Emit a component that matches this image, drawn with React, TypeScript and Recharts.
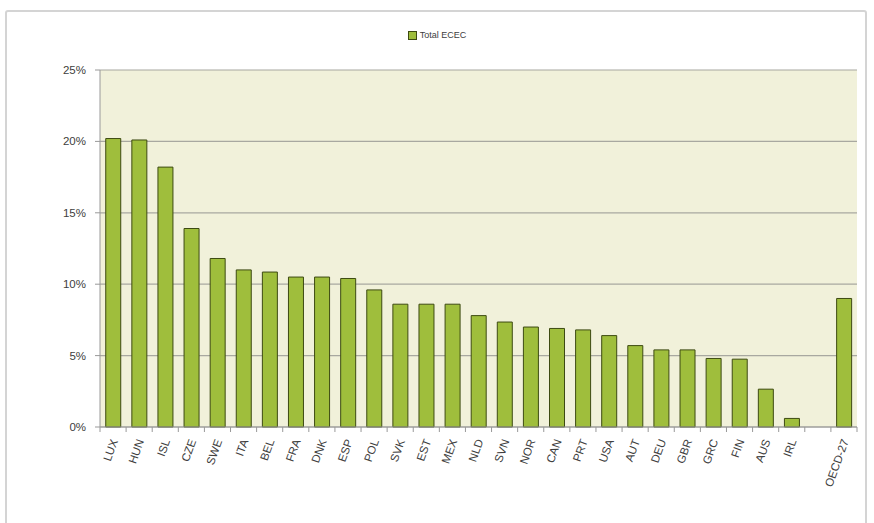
import { BarChart, Bar, XAxis, YAxis, CartesianGrid, Legend } from "recharts";

const countries = [
  "LUX", "HUN", "ISL", "CZE", "SWE", "ITA", "BEL", "FRA", "DNK", "ESP",
  "POL", "SVK", "EST", "MEX", "NLD", "SVN", "NOR", "CAN", "PRT", "USA",
  "AUT", "DEU", "GBR", "GRC", "FIN", "AUS", "IRL", "", "OECD-27",
];

const totalEcec: (number | null)[] = [
  20.2, 20.1, 18.2, 13.9, 11.8, 11.0, 10.85, 10.5, 10.5, 10.4,
  9.6, 8.6, 8.6, 8.6, 7.8, 7.35, 7.0, 6.9, 6.8, 6.4,
  5.7, 5.4, 5.4, 4.8, 4.75, 2.65, 0.6, null, 9.0,
];

const yTicks = [0, 5, 10, 15, 20, 25];

const data = countries.map((c, i) => ({ country: c, ecec: totalEcec[i] }));

const W = 874;
const H = 523;
const PLOT_LEFT = 100;
const PLOT_RIGHT = 857;
const STEP = (PLOT_RIGHT - PLOT_LEFT) / countries.length;
const FONT = "Liberation Sans, Arial, sans-serif";

function XTick(props: any) {
  const { x, y, payload, index } = props;
  const left = x - STEP / 2;
  return (
    <g>
      <line x1={left} y1={y - 8} x2={left} y2={y - 3} stroke="#999" />
      {index === countries.length - 1 && (
        <line x1={x + STEP / 2} y1={y - 8} x2={x + STEP / 2} y2={y - 3} stroke="#999" />
      )}
      <text
        x={x + 5}
        y={y + 6}
        transform={`rotate(-70 ${x + 5} ${y + 6})`}
        textAnchor="end"
        fontSize={11.5}
        fill="#404040"
        fontFamily={FONT}
      >
        {payload.value}
      </text>
    </g>
  );
}

function LegendBox() {
  return (
    <div
      style={{
        display: "flex",
        alignItems: "center",
        justifyContent: "center",
        fontSize: 9,
        color: "#404040",
        fontFamily: FONT,
      }}
    >
      <span
        style={{
          display: "inline-block",
          width: 7,
          height: 7,
          background: "#9fbe3c",
          border: "1px solid #3d4a12",
          marginRight: 3,
        }}
      />
      Total ECEC
    </div>
  );
}

export default function App() {
  return (
    <div style={{ position: "absolute", left: 0, top: 0, width: W, height: H, background: "#fff" }}>
      <div
        style={{
          position: "absolute",
          left: 5,
          top: 10,
          width: 862,
          height: 520,
          border: "2px solid #d4d4d4",
          borderRadius: 3,
          boxSizing: "border-box",
        }}
      />
      <BarChart
        width={W}
        height={H}
        data={data}
        margin={{ top: 60, right: W - PLOT_RIGHT, bottom: 0, left: 0 }}
        barCategoryGap="22%"
        style={{ position: "absolute", left: 0, top: 0 }}
      >
        <CartesianGrid
          vertical={false}
          fill="#f1f1da"
          stroke="#a8a8a0"
          strokeWidth={1.2}
        />
        <Legend
          verticalAlign="top"
          content={<LegendBox />}
          wrapperStyle={{ top: 30, left: 0, width: W }}
        />
        <XAxis
          dataKey="country"
          interval={0}
          height={96}
          tickLine={false}
          axisLine={{ stroke: "#999" }}
          tick={<XTick />}
        />
        <YAxis
          width={PLOT_LEFT}
          domain={[0, 25]}
          ticks={yTicks}
          tickFormatter={(v) => `${v}%`}
          axisLine={{ stroke: "#999" }}
          tickLine={{ stroke: "#999" }}
          tickSize={5}
          tickMargin={9}
          tick={{ fontSize: 11.5, fill: "#404040", fontFamily: FONT }}
        />
        <Bar
          dataKey="ecec"
          name="Total ECEC"
          fill="#9fbe3c"
          stroke="#3d4a12"
          strokeWidth={1}
          isAnimationActive={false}
        />
      </BarChart>
    </div>
  );
}
